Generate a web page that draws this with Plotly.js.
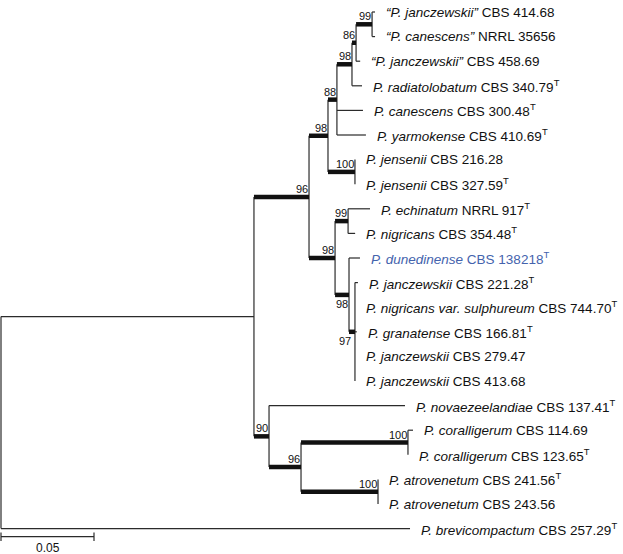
<!DOCTYPE html>
<html><head><meta charset="utf-8">
<script src="https://cdn.plot.ly/plotly-3.0.1.min.js"></script>
<style>html,body{margin:0;padding:0;background:#fff}</style>
</head><body><div id="chart" style="width:623px;height:554px"></div>
<script>
// ---- leaf labels (top to bottom) ----
const taxonNames = [
  "“P. janczewskii”", "“P. canescens”", "“P. janczewskii”", "P. radiatolobatum",
  "P. canescens", "P. yarmokense", "P. jensenii", "P. jensenii",
  "P. echinatum", "P. nigricans", "P. dunedinense", "P. janczewskii",
  "P. nigricans var. sulphureum", "P. granatense", "P. janczewskii", "P. janczewskii",
  "P. novaezeelandiae", "P. coralligerum", "P. coralligerum", "P. atrovenetum",
  "P. atrovenetum", "P. brevicompactum"
];
const strainIds = [
  "CBS 414.68", "NRRL 35656", "CBS 458.69", "CBS 340.79",
  "CBS 300.48", "CBS 410.69", "CBS 216.28", "CBS 327.59",
  "NRRL 917", "CBS 354.48", "CBS 138218", "CBS 221.28",
  "CBS 744.70", "CBS 166.81", "CBS 279.47", "CBS 413.68",
  "CBS 137.41", "CBS 114.69", "CBS 123.65", "CBS 241.56",
  "CBS 243.56", "CBS 257.29"
];
const typeStrain = [
  false, false, false, true, true, true, false, true, true, true, true, true,
  true, true, false, false, true, false, true, true, false, true
];
const highlightedLeaf = 10;

// ---- tree: nodes 0..21 are leaves, 22.. internal (22 = root) ----
const nodeParent = [
  29, 29, 28, 27, 26, 26, 30, 30, 32, 32, 33, 34, 34, 34, 34, 34, 35, 37, 37, 38, 38, 22,
  -1, 22, 23, 24, 25, 26, 27, 28, 25, 24, 31, 31, 33, 23, 35, 36, 36
];
const branchLength = [
  0.0016, 0.0016, 0.0022, 0.0054, 0.0140, 0.0156, 0, 0, 0.0118, 0.0038, 0.0059, 0.0016,
  0, 0.0010, 0, 0, 0.0731, 0.0027, 0, 0, 0, 0.2199,
  0, 0.1360, 0.0296, 0.0102, 0.0048, 0.0081, 0.0022, 0.0086, 0.0145, 0.0140, 0.0070,
  0.0075, 0.0032, 0.0081, 0.0172, 0.0575, 0.0414
];
const bootstrap = [
  null, null, null, null, null, null, null, null, null, null, null, null, null, null, null, null,
  null, null, null, null, null, null,
  null, null, 96, 98, 88, 98, 86, 99, 100, 98, 99, 98, 97, 90, 96, 100, 100
];
const supportBelow = [33, 34];
const scaleBarLength = 0.05;
const scaleBarLabel = "0.05";

// ---- layout computation ----
const N = nodeParent.length;
const nLeaves = taxonNames.length;
const children = Array.from({length: N}, () => []);
nodeParent.forEach((p, i) => { if (p >= 0) children[p].push(i); });
const depth = new Array(N).fill(null);
function getDepth(i) {
  if (depth[i] !== null) return depth[i];
  const p = nodeParent[i];
  depth[i] = (p < 0 ? 0 : getDepth(p)) + branchLength[i];
  return depth[i];
}
for (let i = 0; i < N; i++) getDepth(i);
const ypos = new Array(N).fill(null);
function getY(i) {
  if (ypos[i] !== null) return ypos[i];
  if (i < nLeaves) { ypos[i] = i; return i; }
  const ys = children[i].map(getY);
  ypos[i] = (Math.min(...ys) + Math.max(...ys)) / 2;
  return ypos[i];
}
for (let i = 0; i < N; i++) getY(i);

const thinX = [], thinY = [], thickX = [], thickY = [];
for (let i = 0; i < N; i++) {
  if (children[i].length) {
    const ys = children[i].map(c => ypos[c]);
    thinX.push(depth[i], depth[i], null);
    thinY.push(Math.min(...ys), Math.max(...ys), null);
  }
  const p = nodeParent[i];
  if (p >= 0 && branchLength[i] > 0) {
    if (bootstrap[i] !== null) {
      thickX.push(depth[p], depth[i], null); thickY.push(ypos[i], ypos[i], null);
    } else {
      thinX.push(depth[p], depth[i], null); thinY.push(ypos[i], ypos[i], null);
    }
  }
}

const FONT = "Liberation Sans, Arial, Helvetica, sans-serif";
const annotations = [];
for (let i = 0; i < nLeaves; i++) {
  const txt = `<i>${taxonNames[i]}</i> ${strainIds[i]}` + (typeStrain[i] ? "<sup>T</sup>" : "");
  annotations.push({
    x: depth[i], y: ypos[i], xref: "x", yref: "y", text: txt, showarrow: false,
    xanchor: "left", yanchor: "middle", xshift: 9,
    font: {family: FONT, size: 13.5, color: i === highlightedLeaf ? "#4463ad" : "#111111"}
  });
}
for (let i = nLeaves; i < N; i++) {
  if (bootstrap[i] === null) continue;
  const below = supportBelow.includes(i);
  annotations.push({
    x: depth[i], y: ypos[i], xref: "x", yref: "y", text: String(bootstrap[i]), showarrow: false,
    xanchor: "right", yanchor: below ? "top" : "bottom", xshift: i === 34 ? -2 : 1,
    yshift: below ? -1 : 0,
    font: {family: FONT, size: 11, color: "#111111"}
  });
}

// scale bar
const sbY = 21.33, tick = 0.17;
const sbX = [0, scaleBarLength, null, 0, 0, null, scaleBarLength, scaleBarLength];
const sbYs = [sbY, sbY, null, sbY - tick, sbY + tick, null, sbY - tick, sbY + tick];
annotations.push({
  x: scaleBarLength / 2, y: sbY, xref: "x", yref: "y", text: scaleBarLabel, showarrow: false,
  xanchor: "center", yanchor: "top", yshift: -2,
  font: {family: FONT, size: 12, color: "#111111"}
});

const pxPerUnit = 1860;
const traces = [
  {x: thinX, y: thinY, mode: "lines", line: {color: "#2b2b2b", width: 1.2}, hoverinfo: "skip"},
  {x: thickX, y: thickY, mode: "lines", line: {color: "#111111", width: 4.5}, hoverinfo: "skip"},
  {x: sbX, y: sbYs, mode: "lines", line: {color: "#2b2b2b", width: 1.2}, hoverinfo: "skip"}
];
const layout = {
  width: 623, height: 554,
  margin: {l: 0, r: 0, t: 0, b: 0},
  paper_bgcolor: "#fff", plot_bgcolor: "#fff",
  showlegend: false,
  xaxis: {range: [-1 / pxPerUnit, 622 / pxPerUnit], visible: false, fixedrange: true},
  yaxis: {range: [542 / 24.6, -12 / 24.6], visible: false, fixedrange: true},
  annotations: annotations
};
Plotly.newPlot("chart", traces, layout, {displayModeBar: false, staticPlot: true});
</script>
</body></html>
